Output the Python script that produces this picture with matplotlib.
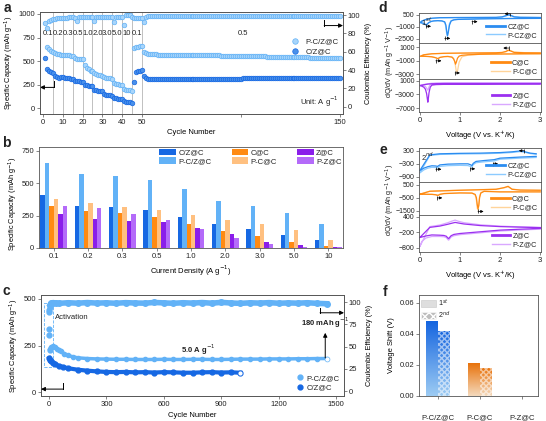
import numpy as np
import matplotlib
matplotlib.use('Agg')
import matplotlib.pyplot as plt
from matplotlib.patches import Rectangle, Patch
from matplotlib.lines import Line2D
from matplotlib.colors import LinearSegmentedColormap

plt.rcParams['font.family'] = ['Liberation Sans', 'DejaVu Sans']
plt.rcParams['font.size'] = 5.5
plt.rcParams['axes.linewidth'] = 0.6
plt.rcParams['axes.edgecolor'] = '#555555'
plt.rcParams['xtick.major.size'] = 2
plt.rcParams['ytick.major.size'] = 2
plt.rcParams['xtick.major.width'] = 0.5
plt.rcParams['ytick.major.width'] = 0.5
plt.rcParams['xtick.major.pad'] = 1.5
plt.rcParams['ytick.major.pad'] = 1.5
plt.rcParams['xtick.color'] = '#555555'
plt.rcParams['ytick.color'] = '#555555'
plt.rcParams['xtick.labelcolor'] = '#222222'
plt.rcParams['ytick.labelcolor'] = '#222222'
plt.rcParams['text.color'] = '#222222'

BLUE = '#1668E3'
LBLUE = '#62B2F7'
ORANGE = '#FF8A12'
LORANGE = '#FFC080'
PURPLE = '#8A1EEA'
LPURPLE = '#B46BF9'

# ---------------- data: panel a (rate + cycling) ----------------
a_rates = ['0.1', '0.2', '0.3', '0.5', '1.0', '2.0', '3.0', '5.0', '10', '0.1']
a_cap_pcz = [650, 630, 612, 600,
             588, 578, 572, 570, 566,
             565, 562, 560, 558, 555,
             535, 528, 525, 522, 520,
             455, 432, 412, 400, 392,
             372, 362, 356, 350, 346,
             332, 326, 322, 320, 316,
             272, 262, 256, 252, 250,
             202, 196, 192, 190, 186,
             640, 648, 655, 660, 665,
             597, 585, 578, 575, 573, 572, 571, 570, 570, 569,
             569, 569, 568, 568, 568, 567, 567, 567, 566, 566,
             566, 565, 565, 565, 564, 564, 564, 563, 563, 563,
             562, 562, 562, 561, 561, 561, 560, 560, 560, 559,
             559, 558, 558, 558, 557, 557, 556, 556, 556, 555,
             555, 554, 554, 553, 553, 553, 552, 552, 551, 551,
             550, 550, 549, 549, 548, 548, 547, 547, 546, 546,
             545, 545, 544, 544, 543, 543, 542, 542, 541, 541,
             540, 540, 539, 539, 538, 538, 537, 537, 536, 536,
             535, 535, 534, 534, 533, 533, 532, 531, 530, 529]
a_cap_cz = [535, 412, 400, 388, 372,
            340, 330, 325, 330, 335,
            322, 320, 318, 316, 312,
            292, 288, 285, 280, 276,
            250, 246, 242, 240, 236,
            196, 190, 186, 182, 180,
            152, 146, 142, 140, 136,
            110, 105, 100, 98, 95,
            75, 70, 66, 64, 60,
            282, 385, 395, 400, 405,
            340, 318, 312, 310, 309, 309, 309, 309, 310, 310,
            310, 310, 310, 310, 311, 311, 311, 311, 311, 311,
            312, 312, 312, 312, 312, 312, 313, 313, 313, 313,
            313, 313, 314, 314, 314, 314, 314, 314, 315, 315,
            315, 315, 315, 315, 316, 316, 316, 316, 316, 316,
            317, 317, 317, 317, 317, 317, 318, 318, 318, 318,
            318, 318, 319, 319, 319, 319, 319, 319, 320, 320,
            320, 320, 320, 320, 320, 320, 321, 321, 321, 321,
            321, 321, 321, 321, 322, 322, 322, 322, 322, 322,
            322, 322, 323, 323, 323, 323, 323, 323, 323, 324]
a_ce = [91, 86, 93, 95, 96, 96, 97, 97, 97, 97,
        97, 97, 98, 98, 98, 97, 94, 98, 98, 98,
        98, 98, 98, 98, 98, 93, 98, 98, 98, 98,
        98, 98, 98, 98, 98, 92, 98, 98, 98, 98,
        89, 100, 100.5, 100, 98, 97, 97, 97, 97, 97,
        92,
        98.2, 98.6, 98.8, 98.9, 99.0, 99.0, 99.1, 99.0, 99.1, 99.1,
        99.1, 99.0, 99.1, 99.2, 99.1, 99.1, 99.2, 99.1, 99.2, 99.2,
        99.1, 99.2, 99.2, 99.2, 99.1, 99.2, 99.2, 99.3, 99.2, 99.2,
        99.2, 99.3, 99.2, 99.2, 99.3, 99.2, 99.3, 99.3, 99.2, 99.3,
        99.3, 99.3, 99.2, 99.3, 99.3, 99.3, 99.3, 99.2, 99.3, 99.3,
        99.3, 99.3, 99.3, 99.4, 99.3, 99.3, 99.3, 99.4, 99.3, 99.3,
        99.4, 99.3, 99.3, 99.4, 99.3, 99.4, 99.4, 99.3, 99.4, 99.4,
        99.3, 99.4, 99.4, 99.4, 99.3, 99.4, 99.4, 99.4, 99.4, 99.3,
        99.4, 99.4, 99.4, 99.4, 99.4, 99.3, 99.4, 99.4, 99.4, 99.4,
        99.4, 99.4, 99.4, 99.4, 99.4, 99.4, 99.4, 99.4, 99.4]
a_cyc_pcz = np.arange(2, 151)
a_cyc_cz = np.arange(1, 151)

# ---------------- data: panel b (bars) ----------------
b_density = ['0.1', '0.2', '0.3', '0.5', '1.0', '2.0', '3.0', '5.0', '10']
b_series = ['C/Z@C', 'P-C/Z@C', 'C@C', 'P-C@C', 'Z@C', 'P-Z@C']
b_cz = [408, 326, 315, 290, 238, 185, 146, 103, 62]
b_pcz = [654, 572, 559, 525, 453, 364, 326, 267, 182]
b_c = [326, 287, 269, 238, 187, 128, 92, 46, 13]
b_pc = [379, 344, 320, 297, 256, 213, 185, 136, 62]
b_z = [262, 223, 205, 197, 154, 105, 44, 21, 10]
b_pz = [323, 308, 262, 220, 149, 77, 33, 10, 5]

# ---------------- data: panel c (long cycling) ----------------
c_cyc_pcz = [1, 2, 3, 5, 10, 15, 20, 30, 40, 50, 60, 80, 100, 125, 150, 200, 250, 300, 350, 400,
             450, 500, 550, 600, 650, 700, 750, 800, 850, 900, 950, 1000, 1050, 1100, 1150, 1200,
             1250, 1300, 1350, 1400, 1450]
c_cap_pcz = [340, 305, 228, 232, 240, 244, 245, 241, 233, 226, 219, 206, 197, 189, 184, 180, 178, 177,
             176, 176, 175, 175, 175, 176, 175, 175, 176, 176, 175, 175, 176, 177, 177, 177, 178, 178,
             178, 179, 179, 180, 180]
c_cyc_cz = [1, 5, 10, 20, 30, 50, 75, 100, 150, 200, 250, 300, 350, 400, 450, 500, 550, 600, 650, 700,
            750, 800, 850, 900, 950, 1000]
c_cap_cz = [182, 172, 165, 157, 150, 141, 134, 128, 120, 115, 111, 108, 107, 108, 106, 107, 105, 107,
            106, 104, 104, 106, 107, 105, 106, 104]
c_ce_cyc = [1, 2, 3, 6, 10, 20, 35, 50, 100, 150, 200, 250, 300, 350, 400, 450, 500, 550, 600, 650,
            700, 750, 800, 850, 900, 950, 1000, 1050, 1100, 1150, 1200, 1250, 1300, 1350, 1400, 1450]
c_ce = [89, 91, 94, 97, 98.5, 99.5, 99, 98.6, 99.3, 98.8, 99.5, 98.9, 99.2, 98.7, 99.4, 99.0, 98.8,
        99.6, 99.1, 98.7, 99.3, 98.9, 99.5, 98.8, 99.7, 99.0, 98.6, 99.2, 98.9, 99.4, 98.7, 99.1, 98.8,
        99.3, 98.6, 98.2]

# ---------------- data: panels d, e (dQ/dV) ----------------
d1_v = [3.0, 2.6, 2.2, 1.8, 1.5, 1.3, 1.1, 0.95, 0.85, 0.78, 0.74, 0.71, 0.69, 0.67, 0.65, 0.62, 0.55,
        0.45, 0.35, 0.28, 0.22, 0.18, 0.15, 0.12, 0.08, 0.04, 0.01, 0.05, 0.15, 0.3, 0.5, 1.0, 1.5, 1.9,
        2.05, 2.15, 2.2, 2.25, 2.35, 2.5, 2.8, 3.0]
d1_cz = [30, 20, 10, -10, -30, -60, -80, -100, -150, -300, -800, -1700, -2100, -1600, -800, -400, -280,
         -250, -280, -350, -500, -700, -760, -650, -560, -520, -480, -300, -100, 50, 120, 140, 150, 160,
         220, 380, 480, 420, 220, 160, 150, 140]
d1_pcz = [40, 30, 20, 0, -20, -50, -70, -90, -130, -250, -600, -1500, -2200, -1900, -1000, -450, -300,
          -260, -290, -370, -520, -720, -800, -700, -600, -560, -520, -320, -120, 30, 100, 120, 130, 140,
          190, 330, 430, 450, 260, 170, 150, 140]
d2_v = [3.0, 2.6, 2.2, 1.8, 1.5, 1.2, 1.05, 0.98, 0.94, 0.91, 0.89, 0.87, 0.84, 0.8, 0.7, 0.6, 0.5, 0.45,
        0.4, 0.3, 0.2, 0.1, 0.01, 0.1, 0.3, 0.6, 1.0, 1.5, 1.9, 2.05, 2.15, 2.2, 2.25, 2.35, 2.6, 3.0]
d2_c = [50, 40, 20, 0, -30, -100, -180, -300, -600, -1200, -1500, -1100, -700, -450, -350, -380, -500,
        -700, -550, -400, -350, -330, -320, -100, 50, 120, 150, 180, 200, 250, 400, 600, 500, 250, 200, 180]
d2_pc = [60, 50, 30, 10, -20, -150, -400, -1200, -2500, -2600, -1800, -1000, -600, -420, -350, -380, -480,
         -650, -520, -400, -350, -330, -320, -100, 40, 100, 130, 160, 180, 220, 350, 500, 550, 300, 220, 190]
d3_v = [3.0, 2.5, 2.0, 1.5, 1.0, 0.6, 0.4, 0.3, 0.26, 0.23, 0.21, 0.2, 0.19, 0.17, 0.14, 0.1, 0.05, 0.01,
        0.1, 0.2, 0.3, 0.6, 1.0, 2.0, 3.0]
d3_z = [20, 10, 0, -20, -40, -80, -150, -300, -900, -2500, -4500, -5300, -4500, -2800, -1500, -900, -600,
        -450, -200, 0, 100, 150, 150, 150, 150]
d3_pz = [300, 300, 300, 300, 300, 250, 200, 100, -200, -800, -1500, -1800, -1600, -1200, -700, -500, -400,
         -350, -100, 100, 250, 300, 300, 300, 300]

e1_v = [2.9, 2.5, 2.0, 1.85, 1.6, 1.4, 1.33, 1.3, 1.26, 1.2, 1.0, 0.7, 0.5, 0.44, 0.4, 0.3, 0.2, 0.1, 0.0,
        0.25, 0.5, 1.0, 1.5, 2.0, 2.3, 2.5, 2.6, 2.75, 2.9]
e1_cz = [40, 10, -40, -110, -150, -190, -280, -380, -340, -300, -300, -315, -350, -420, -400, -390, -430,
         -500, -610, 110, 160, 180, 190, 215, 250, 290, 260, 190, 160]
e1_pcz = [-10, -40, -90, -170, -210, -250, -340, -450, -420, -380, -370, -385, -420, -490, -470, -460,
          -500, -580, -720, 80, 130, 150, 160, 185, 220, 260, 240, 170, 140]
e2_v = [3.0, 2.5, 2.0, 1.6, 1.52, 1.49, 1.47, 1.45, 1.43, 1.41, 1.38, 1.3, 1.0, 0.6, 0.5, 0.45, 0.4, 0.3,
        0.1, 0.0, 0.25, 1.0, 1.9, 2.1, 2.2, 2.3, 2.5, 3.0]
e2_c = [-60, -60, -60, -20, -150, -500, -1100, -1350, -1000, -500, -250, -150, -140, -190, -250, -330, -280,
        -250, -240, -240, -10, 65, 140, 270, 370, 140, 80, 65]
e2_pc = [-40, -40, -40, 0, -100, -400, -1000, -1450, -1300, -700, -300, -150, -130, -180, -240, -320, -270,
         -240, -230, -230, 0, 80, 150, 250, 330, 160, 90, 70]
e3_v = [3.0, 2.5, 2.0, 1.5, 1.0, 0.85, 0.78, 0.74, 0.72, 0.7, 0.66, 0.6, 0.5, 0.3, 0.15, 0.05, 0.0,
        0.25, 0.5, 0.7, 0.8, 0.88, 0.95, 1.1, 1.5, 2.0, 2.5, 3.0]
e3_z = [-50, -80, -115, -180, -245, -280, -330, -400, -440, -420, -350, -320, -310, -300, -340, -380, -400,
        -10, 40, 110, 150, 180, 160, 120, 60, 20, 0, -20]
e3_pz = [-80, -110, -150, -220, -290, -330, -380, -460, -500, -480, -400, -370, -360, -360, -420, -550, -750,
         20, 80, 170, 230, 270, 230, 170, 90, 40, 10, -10]

# ---------------- data: panel f ----------------
f_samples = ['P-C/Z@C', 'P-C@C', 'P-Z@C']
f_first = [0.048, 0.021, 0.0]
f_second = [0.042, 0.018, 0.0]

W, H = 546, 421
fig = plt.figure(figsize=(W / 100, H / 100), dpi=100)


def axpos(l, t, r, b):
    return fig.add_axes([l / W, 1 - b / H, (r - l) / W, (b - t) / H])


def shift_arrow(ax, x, y, dx):
    ax.plot([x], [y], marker='|', ms=3, mew=0.5, color='k')
    ax.annotate('', xy=(x + dx, y), xytext=(x, y),
                arrowprops=dict(arrowstyle='-|>', lw=0.5, color='k', mutation_scale=4,
                                shrinkA=0, shrinkB=0))


def corner_arrow(ax, x0, y0, y1, x1):
    ax.plot([x0, x0], [y0, y1], color='k', lw=0.7)
    ax.annotate('', xy=(x1, y1), xytext=(x0, y1),
                arrowprops=dict(arrowstyle='-|>', lw=0.7, color='k', mutation_scale=6,
                                shrinkA=0, shrinkB=0))


# ================= a =================
ax = axpos(40, 12, 343, 114)
for c in range(5, 51, 5):
    ax.axvline(c, color='#b5b5b5', lw=0.6, zorder=0)
la, = ax.plot(a_cyc_pcz, a_cap_pcz, 'o', ms=3.3, mfc='#a8d5fb', mec=LBLUE, mew=0.5, zorder=3)
lb, = ax.plot(a_cyc_cz, a_cap_cz, 'o', ms=3.3, mfc='#4a90ea', mec=BLUE, mew=0.5, zorder=3)
ax.set_xlim(-1.5, 151.5)
ax.set_ylim(-60, 1021)
ax.set_yticks([0, 250, 500, 750, 1000])
ax.set_xticks([0, 10, 20, 30, 40, 50, 100, 150])
ax.set_xticklabels(['0', '10', '20', '30', '40', '50', '', '150'])
ax.set_xlabel('Cycle Number', labelpad=2)
ax.set_ylabel('Specific Capacity (mAh g$^{-1}$)', labelpad=2, fontsize=5.3)
for i, lab in enumerate(a_rates):
    ax.text(2.5 + 5 * i, 795, lab, ha='center', va='center', fontsize=5.5)
ax.text(101, 795, '0.5', ha='center', va='center', fontsize=5.5)
ax.text(0.985, 0.05, 'Unit: A g$^{-1}$', transform=ax.transAxes, ha='right', va='bottom')
ax.legend([la, lb], ['P-C/Z@C', 'C/Z@C'], loc='upper right', bbox_to_anchor=(1.0, 0.79),
          frameon=False, numpoints=1, handletextpad=0.3, borderaxespad=0.2, labelspacing=0.35,
          markerscale=1.2, fontsize=5.5)
corner_arrow(ax, 5.5, 290, 222, -1.5)
ax2 = ax.twinx()
ax2.plot(a_cyc_cz, a_ce, 'o', ms=3.3, mfc='#a8d5fb', mec=LBLUE, mew=0.5)
ax2.set_ylim(-8, 103.3)
ax2.set_yticks([0, 20, 40, 60, 80, 100])
ax2.set_ylabel('Coulombic Efficiency (%)', labelpad=3, fontsize=5.3)
corner_arrow(ax2, 142, 95, 88.5, 151.5)

# ================= b =================
ax = axpos(39, 147, 343, 248)
xb = np.arange(len(b_density))
wb = 0.13
b_vals = [b_cz, b_pcz, b_c, b_pc, b_z, b_pz]
b_cols = [BLUE, LBLUE, ORANGE, LORANGE, PURPLE, LPURPLE]
for k, (vals, col, name) in enumerate(zip(b_vals, b_cols, b_series)):
    ax.bar(xb + (k - 2.5) * wb, vals, wb, color=col, label=name, lw=0)
ax.set_xlim(-0.43, 8.43)
ax.set_ylim(0, 780)
ax.set_yticks([0, 250, 500, 750])
ax.set_xticks(xb)
ax.set_xticklabels(b_density)
ax.set_xlabel('Current Density (A g$^{-1}$)', labelpad=3)
ax.set_ylabel('Specific Capacity (mAh g$^{-1}$)', fontsize=5.3)
ax.yaxis.set_label_coords(-0.062, 0.44)
ax.legend(ncol=3, loc='upper right', bbox_to_anchor=(1.0, 1.0), frameon=False, fontsize=5.5,
          handlelength=2.2, handleheight=1.0, handletextpad=0.3, columnspacing=2.6,
          labelspacing=0.1, borderaxespad=0.1, borderpad=0.1)

# ================= c =================
ax = axpos(41, 295, 344, 396)
ax2 = ax.twinx()
ax.set_zorder(ax2.get_zorder() + 1)
ax.patch.set_visible(False)
ax2.plot(c_ce_cyc[3:], c_ce[3:], '-o', color=LBLUE, lw=4, ms=4, mfc=LBLUE, mec=LBLUE)
ax2.plot(c_ce_cyc[:3], c_ce[:3], 'o', ms=3.5, color=LBLUE)
ax.plot(c_cyc_pcz[3:], c_cap_pcz[3:], '-o', color=LBLUE, lw=2.5, ms=3, mfc=LBLUE, mec=LBLUE)
ax.plot(c_cyc_pcz[:3], c_cap_pcz[:3], 'o', ms=3.5, color=LBLUE)
ax.plot(c_cyc_cz, c_cap_cz, '-o', color=BLUE, lw=3, ms=3.5, mfc=BLUE, mec=BLUE)
ax.plot(c_cyc_pcz[-1:], c_cap_pcz[-1:], 'o', ms=2, mfc='white', mec='white')
ax.plot(c_cyc_cz[-1:], c_cap_cz[-1:], 'o', ms=2, mfc='white', mec='white')
ax.add_patch(Rectangle((-25, 135), 47, 343, fill=False, ls='--', ec=LBLUE, lw=0.6))
ax.text(32, 398, 'Activation', ha='left', va='center', fontsize=5.5)
ax.text(690, 226, '5.0 A g$^{-1}$', ha='left', va='center', fontsize=5.5, fontweight='bold')
ax.text(1440, 333, '180 mAh g$^{-1}$', ha='center', va='bottom', fontsize=5.5, fontweight='bold')
ax.annotate('', xy=(1443, 318), xytext=(1443, 183),
            arrowprops=dict(arrowstyle='-|>', lw=0.7, color='k', mutation_scale=6, shrinkA=0, shrinkB=0))
corner_arrow(ax, 73, 48, 16, -42)
ax.set_xlim(-42, 1541)
ax.set_ylim(-21, 521)
ax.set_xticks([0, 300, 600, 900, 1200, 1500])
ax.set_yticks([0, 250, 500])
ax.set_xlabel('Cycle Number', labelpad=3)
ax.set_ylabel('Specific Capacity (mAh g$^{-1}$)', labelpad=2, fontsize=5.3)
hp = Line2D([], [], ls='', marker='o', ms=3.5, color=LBLUE)
hc = Line2D([], [], ls='', marker='o', ms=3.5, color=BLUE)
ax.legend([hp, hc], ['P-C/Z@C', 'C/Z@C'], loc='lower right', bbox_to_anchor=(1.0, 0.0),
          frameon=False, numpoints=1, handletextpad=0.3, borderaxespad=0.2, labelspacing=0.3,
          fontsize=5.5, handlelength=1.0)
ax2.set_ylim(-5.6, 108)
ax2.set_yticks([0, 25, 50, 75, 100])
ax2.set_ylabel('Coulombic Efficiency (%)', labelpad=3, fontsize=5.3)
corner_arrow(ax2, 1416, 93, 88, 1541)


# ================= d / e =================
def dq_panel(ax, v, q1, q2, c1, c2, n1, n2, ylim, yt, last=False):
    ax.plot(v, q2, color=c2, lw=0.9)
    ax.plot(v, q1, color=c1, lw=0.9)
    ax.set_ylim(*ylim)
    ax.set_yticks(yt)
    ax.set_xticks([0, 1, 2, 3])
    ax.tick_params(axis='y', labelsize=5, pad=1)
    if not last:
        ax.tick_params(axis='x', length=0, labelbottom=False)
    h1, = ax.plot([], [], color=c1, lw=2)
    h2, = ax.plot([], [], color=c2, lw=1)
    ax.legend([h1, h2], [n1, n2], loc='lower right', frameon=False, fontsize=5.2,
              handlelength=2.6, handletextpad=0.3, labelspacing=0.2, borderaxespad=0.15)


d_ax = [axpos(419, 13, 541, 43), axpos(419, 43, 541, 79), axpos(419, 79, 541, 112)]
dq_panel(d_ax[0], d1_v, d1_cz, d1_pcz, '#2B8CF0', '#8CCBFF', 'CZ@C', 'P-CZ@C', (-3030, 700), [500, -1000, -2500])
dq_panel(d_ax[1], d2_v, d2_c, d2_pc, ORANGE, '#FFD49A', 'C@C', 'P-C@C', (-3700, 1650), [1000, -1000, -3000])
dq_panel(d_ax[2], d3_v, d3_z, d3_pz, '#9B30F0', '#D9A8FF', 'Z@C', 'P-Z@C', (-8170, 1490), [1000, -3000, -7000], last=True)
for a in d_ax:
    a.set_xlim(-0.02, 3.02)
d_ax[2].set_xlabel('Voltage (V vs. K$^{+}$/K)', labelpad=3)
d_ax[0].text(0.02, 0.93, '1$^{st}$', transform=d_ax[0].transAxes, ha='left', va='top', fontsize=5.5)
shift_arrow(d_ax[0], 0.16, -950, 0.12)
shift_arrow(d_ax[0], 0.62, -2450, 0.14)
shift_arrow(d_ax[0], 1.3, -380, 0.14)
shift_arrow(d_ax[0], 2.25, 600, -0.14)
shift_arrow(d_ax[1], 0.4, -1000, 0.14)
shift_arrow(d_ax[1], 0.88, -2800, 0.12)
shift_arrow(d_ax[1], 2.22, 900, -0.14)
fig.text(390 / W, 1 - 62 / H, 'dQ/dV (mAh g$^{-1}$ V$^{-1}$)', rotation=90, ha='center', va='center',
         fontsize=5.2)

e_ax = [axpos(419, 148, 541, 182), axpos(419, 182, 541, 215), axpos(419, 215, 541, 252)]
dq_panel(e_ax[0], e1_v, e1_cz, e1_pcz, '#2B8CF0', '#8CCBFF', 'CZ@C', 'P-CZ@C', (-1134, 425), [300, -300, -900])
dq_panel(e_ax[1], e2_v, e2_c, e2_pc, ORANGE, '#FFD49A', 'C@C', 'P-C@C', (-1830, 700), [500, -500, -1500])
dq_panel(e_ax[2], e3_v, e3_z, e3_pz, '#9B30F0', '#D9A8FF', 'Z@C', 'P-Z@C', (-955, 465), [400, -200, -800], last=True)
for a in e_ax:
    a.set_xlim(-0.02, 3.02)
e_ax[2].set_xlabel('Voltage (V vs. K$^{+}$/K)', labelpad=3)
e_ax[0].text(0.02, 0.93, '2$^{nd}$', transform=e_ax[0].transAxes, ha='left', va='top', fontsize=5.5)
shift_arrow(e_ax[0], 0.4, -550, 0.14)
shift_arrow(e_ax[0], 1.26, -530, 0.12)
shift_arrow(e_ax[0], 1.83, -300, 0.12)
shift_arrow(e_ax[0], 2.6, 300, -0.13)
shift_arrow(e_ax[1], 0.44, -520, 0.12)
shift_arrow(e_ax[1], 1.45, -1560, 0.14)
fig.text(390 / W, 1 - 200 / H, 'dQ/dV (mAh g$^{-1}$ V$^{-1}$)', rotation=90, ha='center', va='center',
         fontsize=5.2)

# ================= f =================
ax = axpos(419, 295, 538, 396)
xf = np.arange(len(f_samples))
wf = 0.28
cmaps = [LinearSegmentedColormap.from_list('b', ['#9CCBF3', '#1565E0']),
         LinearSegmentedColormap.from_list('o', ['#F4D9BC', '#E8730C']),
         LinearSegmentedColormap.from_list('p', ['#E3C8FA', '#8A1EEA'])]
grad = np.linspace(0, 1, 100).reshape(-1, 1)
for i in range(len(f_samples)):
    for k, h in enumerate([f_first[i], f_second[i]]):
        if h <= 0:
            continue
        x0 = xf[i] + (k - 1) * wf
        bar = ax.bar(x0, h, wf, align='edge', color='none', lw=0)[0]
        im = ax.imshow(grad, extent=[x0, x0 + wf, 0, h], origin='lower', aspect='auto',
                       cmap=cmaps[i], zorder=2)
        im.set_clip_path(bar)
        if k == 1:
            ax.bar(x0, h, wf, align='edge', fill=False, hatch='xxxxxx', edgecolor=(1, 1, 1, 0.55),
                   lw=0, zorder=3)
ax.set_xlim(-0.45, 2.38)
ax.set_ylim(0, 0.065)
ax.set_yticks([0, 0.02, 0.04, 0.06])
ax.set_yticklabels(['0.00', '0.02', '0.04', '0.06'])
ax.set_xticks(xf)
ax.set_xticklabels(f_samples)
ax.tick_params(axis='x', pad=11)
ax.set_ylabel('Voltage Shift (V)', labelpad=3)
ax.legend([Patch(facecolor='#dedede', edgecolor='#c8c8c8', lw=0.4),
           Patch(facecolor='#bdbdbd', edgecolor='white', hatch='xxxx', lw=0.4)],
          ['1$^{st}$', '2$^{nd}$'], loc='upper left', frameon=False, fontsize=5.2,
          handlelength=2.0, handleheight=1.1, handletextpad=0.4, labelspacing=0.15,
          borderaxespad=0.2, borderpad=0.1)

# panel letters
for lab, px, py in [('a', 7, 8), ('b', 6, 143), ('c', 6, 291), ('d', 383, 8), ('e', 383, 150), ('f', 385, 292)]:
    fig.text(px / W, 1 - py / H, lab, fontsize=10, fontweight='bold', ha='center', va='center')

fig.savefig('out.png', dpi=100)
